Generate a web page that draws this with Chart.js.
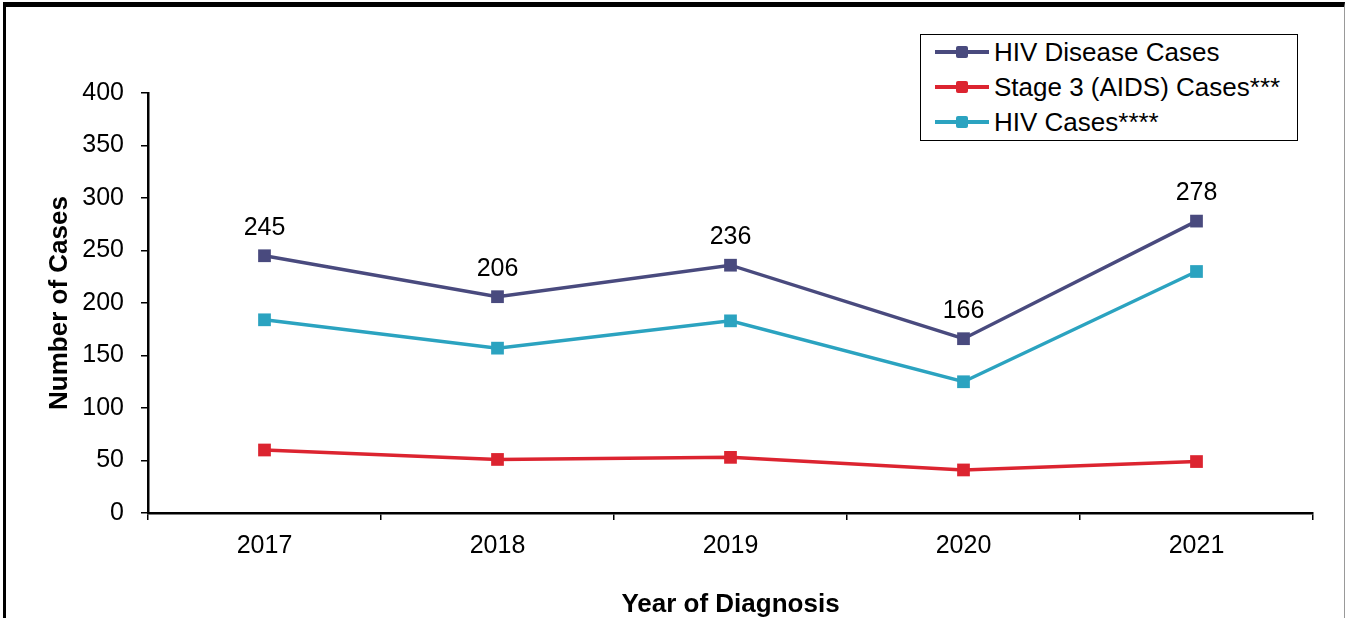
<!DOCTYPE html>
<html>
<head>
<meta charset="utf-8">
<script src="https://cdn.jsdelivr.net/npm/chart.js@4.4.1/dist/chart.umd.min.js"></script>
<style>
  html, body { margin: 0; padding: 0; background: #fff; }
  #wrap { position: relative; width: 1349px; height: 618px; overflow: hidden; font-family: "Liberation Sans", Arial, sans-serif; }
  #frame { position: absolute; left: 3px; top: 2px; width: 1338px; height: 640px; border-top: 5px solid #000; border-left: 3px solid #000; border-right: 1px solid #999; }
  #grafico { position: absolute; left: 0; top: 0; }
  #legenda { position: absolute; left: 920px; top: 34px; width: 376px; height: 105px; border: 1.5px solid #000; background: #fff; }
  .item { position: absolute; left: 14px; height: 30px; display: flex; align-items: center; font-size: 26px; color: #000; }
  .amostra { position: relative; width: 54px; height: 4px; margin-right: 5px; }
  .amostra span { position: absolute; left: 21px; top: -4px; width: 12px; height: 12px; border-radius: 2px; }
</style>
</head>
<body>
<div id="wrap">
  <div id="frame"></div>
  <canvas id="grafico" width="1349" height="618"></canvas>
  <div id="legenda"></div>
</div>
<script>
// Dados do gráfico
const anos = ['2017', '2018', '2019', '2020', '2021'];
const casosDoencaHIV = [245, 206, 236, 166, 278];
const casosEstagio3 = [60, 51, 53, 41, 49];
const casosHIV = [184, 157, 183, 125, 230];
const nomesSeries = ['HIV Disease Cases', 'Stage 3 (AIDS) Cases***', 'HIV Cases****'];
const coresSeries = ['#494A7E', '#DC2430', '#2BA3C0'];
const marcasY = [0, 50, 100, 150, 200, 250, 300, 350, 400];

const fonte = '"Liberation Sans", Arial, sans-serif';

// Legenda em HTML
const legenda = document.getElementById('legenda');
nomesSeries.forEach((nome, i) => {
    const item = document.createElement('div');
    item.className = 'item';
    item.style.top = (2 + i * 35) + 'px';
    const amostra = document.createElement('div');
    amostra.className = 'amostra';
    amostra.style.background = coresSeries[i];
    const quadrado = document.createElement('span');
    quadrado.style.background = coresSeries[i];
    amostra.appendChild(quadrado);
    const texto = document.createElement('span');
    texto.textContent = nome;
    item.appendChild(amostra);
    item.appendChild(texto);
    legenda.appendChild(item);
});

// Rótulos de valor acima da primeira série
const rotulos = {
    id: 'rotulos',
    afterDatasetsDraw(chart) {
        const ctx = chart.ctx;
        const meta = chart.getDatasetMeta(0);
        ctx.save();
        ctx.font = '25px ' + fonte;
        ctx.fillStyle = '#000';
        ctx.textAlign = 'center';
        ctx.textBaseline = 'middle';
        meta.data.forEach((pt, i) => {
            ctx.fillText(String(casosDoencaHIV[i]), pt.x, pt.y - 28);
        });
        ctx.restore();
    }
};

const series = [casosDoencaHIV, casosEstagio3, casosHIV];

new Chart(document.getElementById('grafico'), {
    type: 'line',
    data: {
        labels: anos,
        datasets: series.map((valores, i) => ({
            label: nomesSeries[i],
            data: valores,
            borderColor: coresSeries[i],
            backgroundColor: coresSeries[i],
            borderWidth: 3.5,
            pointStyle: 'rect',
            pointRadius: 9,
            pointHoverRadius: 9,
            pointBorderWidth: 0,
            tension: 0
        }))
    },
    options: {
        responsive: false,
        animation: false,
        layout: { padding: { top: 93, right: 36, left: 0, bottom: 0 } },
        plugins: { legend: { display: false }, tooltip: { enabled: false } },
        scales: {
            x: {
                offset: true,
                afterFit: (s) => { s.height = 105; },
                grid: { offset: true, drawOnChartArea: false, drawTicks: true, tickLength: 7, color: '#000', lineWidth: 1.5 },
                border: { display: true, color: '#000', width: 2.5 },
                ticks: { color: '#000', font: { size: 25, family: fonte }, padding: 11 },
                title: { display: true, text: 'Year of Diagnosis', color: '#000', font: { size: 26, weight: 'bold', family: fonte }, padding: { top: 0, bottom: -2 } }
            },
            y: {
                min: 0,
                max: 400,
                afterFit: (s) => { s.width = 148; },
                afterBuildTicks: (s) => { s.ticks = marcasY.map(v => ({ value: v })); },
                grid: { drawOnChartArea: false, drawTicks: true, tickLength: 7, color: '#000', lineWidth: 1.5 },
                border: { display: true, color: '#000', width: 2.5 },
                ticks: { color: '#000', font: { size: 25, family: fonte }, padding: 17 },
                title: { display: true, text: 'Number of Cases', color: '#000', font: { size: 26, weight: 'bold', family: fonte }, padding: { top: 44, bottom: 0 } }
            }
        }
    },
    plugins: [rotulos]
});
</script>
</body>
</html>
